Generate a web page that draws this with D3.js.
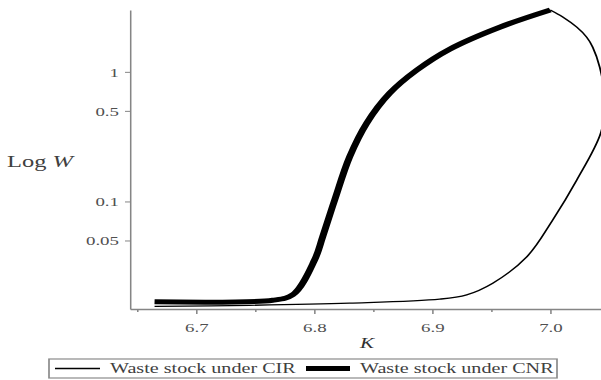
<!DOCTYPE html>
<html>
<head>
<meta charset="utf-8">
<script src="https://cdn.jsdelivr.net/npm/d3@7"></script>
<style>
  html, body { margin: 0; padding: 0; background: #fff; }
  svg { display: block; }
  text { font-family: "Liberation Serif", "DejaVu Serif", serif; }
</style>
</head>
<body>
<svg id="chart"></svg>
<script>
// Waste stock W against K, two regimes, log-scaled W
const seriesNames = ["Waste stock under CIR", "Waste stock under CNR"];

// CIR branch (it folds back at the right)
const cirK = [6.6648, 6.7453, 6.830, 6.9064, 6.9292, 6.9513, 6.9801, 7.0021,
              7.0225, 7.0428, 7.0462, 7.0419, 7.0360, 7.0309, 7.0225, 7.0106, 7.0];
const cirW = [0.01552, 0.0158, 0.01643, 0.01764, 0.01905, 0.02343, 0.03736, 0.0720,
              0.1464, 0.3377, 0.605, 1.087, 1.549, 1.85, 2.21, 2.65, 3.0];

// CNR branch
const cnrK = [6.6648, 6.7648, 6.7818, 6.8004, 6.8072, 6.8174, 6.830, 6.8445, 6.864,
              6.8869, 6.9148, 6.9572, 7.0];
const cnrW = [0.01682, 0.01727, 0.01905, 0.03542, 0.05327, 0.1027, 0.2203, 0.4018, 0.685,
              1.031, 1.496, 2.21, 3.0];

const yTicks = [0.05, 0.1, 0.5, 1];
const yTickLabels = ["0.05", "0.1", "0.5", "1"];
const xTicks = [6.7, 6.8, 6.9, 7.0];
const xTickLabels = ["6.7", "6.8", "6.9", "7.0"];
const xMinorTicks = [6.65, 6.75, 6.85, 6.95];

const W = 601, H = 380;
const S = 1.4;                 // horizontal stretch of the drawing
const u = v => v / S;          // screen px -> drawing units (x only)

const svg = d3.select("#chart")
  .attr("width", W).attr("height", H)
  .attr("viewBox", `0 0 ${W / S} ${H}`)
  .attr("preserveAspectRatio", "none");

const plotLeft = 130, plotRight = 601, plotTop = 10, plotBottom = 309;

const x = d3.scaleLinear().domain([6.644, 7.043]).range([u(plotLeft), u(plotRight)]);
const y = d3.scaleLog().domain([0.0148, 3]).range([plotBottom, plotTop]);

const axisColor = "#858585";
const labelColor = "#505050";
const serif = '"Liberation Serif", "DejaVu Serif", serif';

// y axis
const yAxis = svg.append("g")
  .attr("transform", `translate(${u(plotLeft)},0)`)
  .call(d3.axisLeft(y).tickValues(yTicks)
    .tickFormat((d, i) => yTickLabels[i])
    .tickSize(u(5)).tickSizeOuter(0).tickPadding(u(6)));
yAxis.attr("font-family", serif);
yAxis.select(".domain").attr("stroke", axisColor).attr("stroke-width", 1.1);
yAxis.selectAll(".tick line").attr("stroke", axisColor).attr("stroke-width", 1);
yAxis.selectAll(".tick text").attr("fill", labelColor).attr("font-size", 13.5);

// x axis, major ticks with labels
const xAxis = svg.append("g")
  .attr("transform", `translate(0,${plotBottom})`)
  .call(d3.axisBottom(x).tickValues(xTicks)
    .tickFormat((d, i) => xTickLabels[i])
    .tickSize(5).tickSizeOuter(0).tickPadding(8));
xAxis.attr("font-family", serif);
xAxis.select(".domain").attr("stroke", axisColor).attr("stroke-width", 1.3);
xAxis.selectAll(".tick line").attr("stroke", axisColor).attr("stroke-width", 1.1);
xAxis.selectAll(".tick text").attr("fill", labelColor).attr("font-size", 13.5);

// x axis, minor ticks
const xMinor = svg.append("g")
  .attr("transform", `translate(0,${plotBottom})`)
  .call(d3.axisBottom(x).tickValues(xMinorTicks).tickFormat("").tickSize(3).tickSizeOuter(0));
xMinor.select(".domain").remove();
xMinor.selectAll(".tick line").attr("stroke", axisColor).attr("stroke-width", 1.1);

// clip to the plotting window
svg.append("clipPath").attr("id", "plot-clip")
  .append("rect").attr("x", u(plotLeft)).attr("y", 0)
  .attr("width", u(plotRight - plotLeft) + 5).attr("height", plotBottom);

const line = d3.line()
  .x(d => x(d[0])).y(d => y(d[1]))
  .curve(d3.curveCatmullRom.alpha(0.5));

const cir = cirK.map((k, i) => [k, cirW[i]]);
const cnr = cnrK.map((k, i) => [k, cnrW[i]]);

const plot = svg.append("g").attr("clip-path", "url(#plot-clip)");
plot.append("path").datum(cir)
  .attr("d", line).attr("fill", "none")
  .attr("stroke", "#000").attr("stroke-width", 1.3)
  .attr("stroke-linejoin", "round");
plot.append("path").datum(cnr)
  .attr("d", line).attr("fill", "none")
  .attr("stroke", "#000").attr("stroke-width", 5)
  .attr("stroke-linejoin", "round").attr("stroke-linecap", "butt");

// axis titles
const yTitle = svg.append("text")
  .attr("x", u(7)).attr("y", 167)
  .attr("font-size", 17.5).attr("fill", "#404040");
yTitle.append("tspan").text("Log ");
yTitle.append("tspan").attr("font-style", "italic").text("W");

svg.append("text")
  .attr("x", u(367)).attr("y", 348)
  .attr("text-anchor", "middle")
  .attr("font-size", 15).attr("font-style", "italic").attr("fill", "#303030")
  .text("K");

// legend
const lg = svg.append("g");
lg.append("rect")
  .attr("x", u(49)).attr("y", 359)
  .attr("width", u(557 - 49)).attr("height", 19)
  .attr("fill", "#fff").attr("stroke", "#8a8a8a").attr("stroke-width", 1.2);

const legendItems = [
  { name: seriesNames[0], width: 1.3, x0: 55, x1: 100, tx: 110 },
  { name: seriesNames[1], width: 5, x0: 306, x1: 350, tx: 360 }
];
legendItems.forEach(it => {
  lg.append("line")
    .attr("x1", u(it.x0)).attr("x2", u(it.x1))
    .attr("y1", 368.5).attr("y2", 368.5)
    .attr("stroke", "#000").attr("stroke-width", it.width);
  lg.append("text")
    .attr("x", u(it.tx)).attr("y", 373.5)
    .attr("font-size", 14.4).attr("fill", "#404040")
    .text(it.name);
});
</script>
</body>
</html>
